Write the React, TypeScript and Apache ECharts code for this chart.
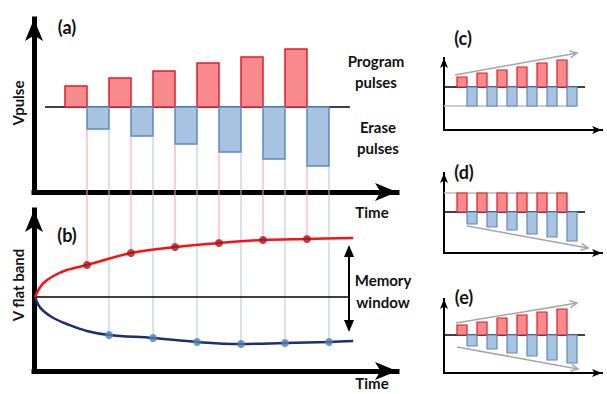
import React, { useEffect, useRef } from "react";
import * as echarts from "echarts";

// ---------- data ----------
// (a) pulse amplitudes (arbitrary units), pulse k: program at t in [2k,2k+1], erase at [2k+1,2k+2]
const programAmp = [21, 29, 36, 44, 50, 58];
const eraseAmp = [22, 29, 37, 45, 52, 59];
// (b) flat-band voltage after each pulse
const vfbAfterProgram = [32, 44, 50, 54, 57, 58];
const vfbAfterErase = [-38, -41, -45, -47, -46, -45];
const programCurveT = [-1.36, -1.21, -0.98, -0.53, 0.08, 1, 3, 5, 7, 9, 11, 13.1];
const programCurveV = [0, 7, 14, 21, 27, 32, 44, 50, 54, 57, 58, 59];
const eraseCurveT = [-1.36, -1.21, -0.98, -0.53, 0.08, 0.99, 2, 4, 6, 8, 10, 12, 13.1];
const eraseCurveV = [0, -8, -14, -21, -27, -34, -38, -41, -45, -47, -46, -45, -44];
const memoryWindow = [12.91, 52, -35];
// (c)(d)(e) pulse schemes
const cProgram = [10, 14, 17, 20, 24, 27];
const cErase = [19, 19, 19, 19, 19, 19];
const dProgram = [19, 19, 19, 19, 19, 19];
const dErase = [12, 15, 18, 22, 25, 29];
const eProgram = [10, 13, 17, 20, 23, 26];
const eErase = [11, 14, 18, 21, 25, 28];
// trend arrows [t0, v0, t1, v1]
const cTrend = [[-0.2, 12, 12, 34]];
const dTrend = [[1, -14, 13.1, -36]];
const eTrend = [[-0.1, 12, 12, 32], [0, -12, 12.1, -34]];
// labels
const panelLabels = ["(a)", "(b)", "(c)", "(d)", "(e)"];
const axisTitles = ["Vpulse", "V flat band"];
const timeLabel = "Time";

const RED_FILL = "#F8898C";
const RED_EDGE = "#DC1E27";
const BLUE_FILL = "#A8C3DF";
const BLUE_EDGE = "#5A8AC0";
const FONT = "Lato, 'Open Sans', sans-serif";

function axes(gridIndex: number, xmin: number, xmax: number, ymin: number, ymax: number, big: boolean) {
  const line = {
    show: true,
    onZero: false,
    symbol: ["none", "arrow"],
    symbolSize: big ? [13.5, 22] : [6, 10],
    lineStyle: { color: "#000", width: big ? 5 : 2, cap: "square" },
  };
  const common = {
    type: "value",
    gridIndex,
    axisLine: line,
    axisTick: { show: false },
    axisLabel: { show: false },
    splitLine: { show: false },
  };
  return {
    x: { ...common, min: xmin, max: xmax },
    y: { ...common, min: ymin, max: ymax },
  };
}

function barsSeries(gi: number, values: number[], sign: number, offset: number, fill: string, edge: string, lw: number) {
  return {
    type: "custom",
    xAxisIndex: gi,
    yAxisIndex: gi,
    coordinateSystem: "cartesian2d",
    data: values.map((v, k) => [2 * k + offset, 2 * k + offset + 1, sign * v]),
    encode: { x: [0, 1], y: 2 },
    z: 3,
    renderItem: (_p: any, api: any) => {
      const p0 = api.coord([api.value(0), 0]);
      const p1 = api.coord([api.value(1), api.value(2)]);
      return {
        type: "rect",
        shape: { x: p0[0], y: Math.min(p0[1], p1[1]), width: p1[0] - p0[0], height: Math.abs(p1[1] - p0[1]) },
        style: { fill, stroke: edge, lineWidth: lw },
      };
    },
  };
}

function hLine(gi: number, t0: number, t1: number, v: number, color: string, width: number) {
  return {
    type: "line",
    xAxisIndex: gi,
    yAxisIndex: gi,
    data: [[t0, v], [t1, v]],
    showSymbol: false,
    symbol: "none",
    lineStyle: { color, width },
    z: 2,
  };
}

function vLines(gi: number, items: number[][], color: string) {
  return {
    type: "custom",
    xAxisIndex: gi,
    yAxisIndex: gi,
    coordinateSystem: "cartesian2d",
    data: items,
    z: 1,
    renderItem: (_p: any, api: any) => {
      const a = api.coord([api.value(0), api.value(1)]);
      const b = api.coord([api.value(0), api.value(2)]);
      return { type: "line", shape: { x1: a[0], y1: a[1], x2: b[0], y2: b[1] }, style: { stroke: color, lineWidth: 1 } };
    },
  };
}

function trendArrows(gi: number, items: number[][]) {
  return {
    type: "custom",
    xAxisIndex: gi,
    yAxisIndex: gi,
    coordinateSystem: "cartesian2d",
    data: items,
    z: 4,
    renderItem: (_p: any, api: any) => {
      const a = api.coord([api.value(0), api.value(1)]);
      const b = api.coord([api.value(2), api.value(3)]);
      const ang = Math.atan2(b[1] - a[1], b[0] - a[0]);
      const L = 7, W = 3.5;
      const bx = b[0] - L * Math.cos(ang), by = b[1] - L * Math.sin(ang);
      const l = [bx + W * Math.sin(ang), by - W * Math.cos(ang)];
      const r = [bx - W * Math.sin(ang), by + W * Math.cos(ang)];
      return {
        type: "group",
        children: [
          { type: "line", shape: { x1: a[0], y1: a[1], x2: b[0], y2: b[1] }, style: { stroke: "#A6A6A6", lineWidth: 1.5 } },
          { type: "polyline", shape: { points: [l, b, r] }, style: { stroke: "#A6A6A6", lineWidth: 1.5, fill: "none" } },
        ],
      };
    },
  };
}

function text(x: number, y: number, t: string, size: number, rot = 0) {
  return {
    type: "text",
    x,
    y,
    rotation: rot,
    z: 10,
    style: { text: t, x: 0, y: 0, align: "center", verticalAlign: "middle", font: `bold ${size}px ${FONT}`, fill: "#111" },
  };
}

export default function App() {
  const ref = useRef<HTMLDivElement>(null);
  useEffect(() => {
    if (!ref.current) return;
    const chart = echarts.init(ref.current, undefined, { renderer: "svg" });

    const A = axes(0, -1.409, 15.091, -85, 88, true);
    const B = axes(1, -1.409, 15.091, -74, 87, true);
    const C = axes(2, -1.3, 14.5, -43, 29, false);
    const D = axes(3, -1.3, 14.5, -41, 39, false);
    const E = axes(4, -1.3, 14.5, -38, 36, false);

    const idx = programAmp.map((_, k) => k);
    const series: any[] = [
      // panel (a)
      hLine(0, -0.909, 12.95, 0, "#000", 1.5),
      vLines(0, idx.map((k) => [2 * k + 1, -eraseAmp[k], -85]), "#F2A3A6"),
      vLines(0, idx.map((k) => [2 * k + 2, -eraseAmp[k], -85]), "#A9C7E3"),
      barsSeries(0, programAmp, 1, 0, RED_FILL, RED_EDGE, 1.5),
      barsSeries(0, eraseAmp, -1, 1, BLUE_FILL, BLUE_EDGE, 1.5),
      // panel (b)
      vLines(1, idx.map((k) => [2 * k + 1, 105, vfbAfterProgram[k]]), "#F2A3A6"),
      vLines(1, idx.map((k) => [2 * k + 2, 105, vfbAfterErase[k]]), "#A9C7E3"),
      hLine(1, -1.409, 12.86, 0, "#000", 1.5),
      {
        type: "line", xAxisIndex: 1, yAxisIndex: 1, smooth: 0.35, showSymbol: false, symbol: "none",
        data: programCurveT.map((t, i) => [t, programCurveV[i]]), lineStyle: { color: "#FF1010", width: 2.5 }, z: 3,
      },
      {
        type: "line", xAxisIndex: 1, yAxisIndex: 1, smooth: 0.35, showSymbol: false, symbol: "none",
        data: eraseCurveT.map((t, i) => [t, eraseCurveV[i]]), lineStyle: { color: "#1C2F6E", width: 2.5 }, z: 3,
      },
      {
        type: "scatter", xAxisIndex: 1, yAxisIndex: 1, symbolSize: 8, z: 5,
        data: idx.map((k) => [2 * k + 1, vfbAfterProgram[k]]), itemStyle: { color: "#A5161D" },
      },
      {
        type: "scatter", xAxisIndex: 1, yAxisIndex: 1, symbolSize: 8, z: 5,
        data: idx.map((k) => [2 * k + 2, vfbAfterErase[k]]), itemStyle: { color: "#4F80B2" },
      },
      {
        type: "custom", xAxisIndex: 1, yAxisIndex: 1, coordinateSystem: "cartesian2d", z: 6,
        data: [memoryWindow],
        renderItem: (_p: any, api: any) => {
          const a = api.coord([api.value(0), api.value(1)]);
          const b = api.coord([api.value(0), api.value(2)]);
          const L = 12, W = 5;
          return {
            type: "group",
            children: [
              { type: "line", shape: { x1: a[0], y1: a[1] + L - 2, x2: b[0], y2: b[1] - L + 2 }, style: { stroke: "#000", lineWidth: 2 } },
              { type: "polygon", shape: { points: [[a[0], a[1]], [a[0] - W, a[1] + L], [a[0] + W, a[1] + L]] }, style: { fill: "#000" } },
              { type: "polygon", shape: { points: [[b[0], b[1]], [b[0] - W, b[1] - L], [b[0] + W, b[1] - L]] }, style: { fill: "#000" } },
            ],
          };
        },
      },
      // panel (c)
      hLine(2, -1.3, 12, -19, "#BDBDBD", 1.5),
      hLine(2, -1.3, 12.8, 0, "#000", 1.5),
      barsSeries(2, cProgram, 1, 0, RED_FILL, RED_EDGE, 1.2),
      barsSeries(2, cErase, -1, 1, BLUE_FILL, BLUE_EDGE, 1.2),
      trendArrows(2, cTrend),
      // panel (d)
      hLine(3, -1.3, 11, 19, "#BDBDBD", 1.5),
      hLine(3, -1.3, 12.8, 0, "#000", 1.5),
      barsSeries(3, dProgram, 1, 0, RED_FILL, RED_EDGE, 1.2),
      barsSeries(3, dErase, -1, 1, BLUE_FILL, BLUE_EDGE, 1.2),
      trendArrows(3, dTrend),
      // panel (e)
      hLine(4, -1.3, 12.8, 0, "#000", 1.5),
      barsSeries(4, eProgram, 1, 0, RED_FILL, RED_EDGE, 1.2),
      barsSeries(4, eErase, -1, 1, BLUE_FILL, BLUE_EDGE, 1.2),
      trendArrows(4, eTrend),
    ];

    chart.setOption({
      animation: false,
      backgroundColor: "#fff",
      grid: [
        { left: 34, top: 19, width: 363, height: 173 },
        { left: 34, top: 210, width: 363, height: 161 },
        { left: 444, top: 58, width: 158, height: 72 },
        { left: 444, top: 173, width: 158, height: 80 },
        { left: 444, top: 299, width: 158, height: 74 },
      ],
      xAxis: [A.x, B.x, C.x, D.x, E.x],
      yAxis: [A.y, B.y, C.y, D.y, E.y],
      series,
      graphic: [
        text(67, 27, panelLabels[0], 18),
        text(67, 235, panelLabels[1], 18),
        text(463, 38, panelLabels[2], 18),
        text(464, 172, panelLabels[3], 18),
        text(464, 297, panelLabels[4], 18),
        text(18, 103, axisTitles[0], 15, Math.PI / 2),
        text(18, 285, axisTitles[1], 15, Math.PI / 2),
        text(376, 61, "Program", 15),
        text(376, 82, "pulses", 15),
        text(378, 127, "Erase", 15),
        text(378, 148, "pulses", 15),
        text(372, 212, timeLabel, 15),
        text(372, 383, timeLabel, 15),
        text(383, 280, "Memory", 15),
        text(383, 302, "window", 15),
      ],
    });
    return () => chart.dispose();
  }, []);
  return <div ref={ref} style={{ position: "absolute", left: 0, top: 0, width: 607, height: 394, background: "#fff" }} />;
}
